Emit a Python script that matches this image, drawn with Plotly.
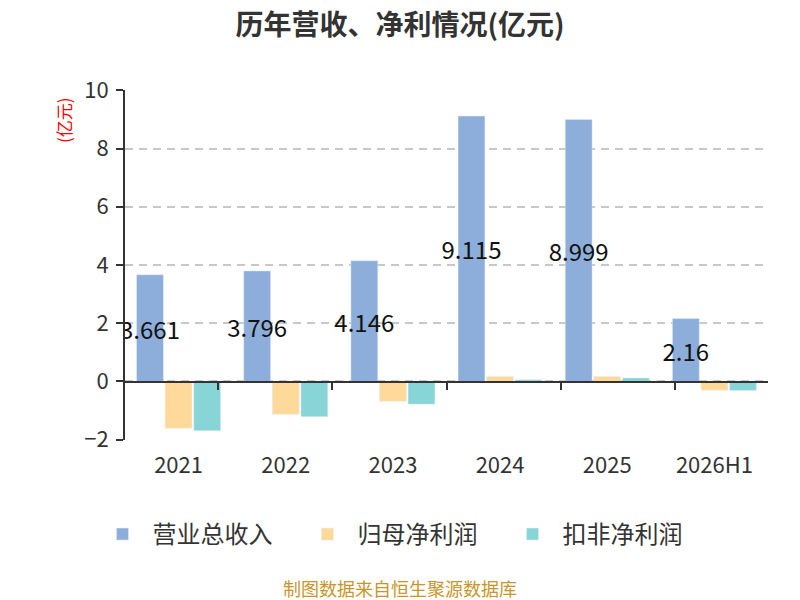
import plotly.graph_objects as go

years = ['2021', '2022', '2023', '2024', '2025', '2026H1']
revenue = [3.661, 3.796, 4.146, 9.115, 8.999, 2.16]
net_profit = [-1.61, -1.13, -0.68, 0.17, 0.17, -0.30]
net_profit_ex = [-1.69, -1.21, -0.78, 0.06, 0.12, -0.31]

font_cn = 'Noto Sans CJK SC'

fig = go.Figure()
fig.add_trace(go.Bar(
    x=years, y=revenue, name='营业总收入',
    marker=dict(color='#8DADDA'),
    text=[str(v) for v in revenue],
    textposition='inside', insidetextanchor='middle',
    textangle=0, constraintext='none',
    textfont=dict(size=24, color='#111', family=font_cn),
    hoverinfo='x+y',
))
fig.add_trace(go.Bar(
    x=years, y=net_profit, name='归母净利润',
    marker=dict(color='#FFD999'),
))
fig.add_trace(go.Bar(
    x=years, y=net_profit_ex, name='扣非净利润',
    marker=dict(color='#88D5D8'),
))
# invisible trace so the zero-line axis with boundary ticks is drawn
fig.add_trace(go.Scatter(
    x=years, y=[0] * len(years), xaxis='x2', mode='markers',
    marker=dict(opacity=0), showlegend=False, hoverinfo='skip',
))

# page body has an 8px margin, so margins are shifted by 8px
center_x = (392 - 117) / 643
fig.update_layout(
    width=800, height=600,
    margin=dict(l=117, r=40, t=82, b=168),
    paper_bgcolor='white', plot_bgcolor='white',
    font=dict(family=font_cn, color='#333'),
    title=dict(text='<b>历年营收、净利情况(亿元)</b>', x=0.49, y=0.972,
               xanchor='center', yanchor='middle',
               font=dict(size=28, color='#333')),
    barmode='group', bargap=0.2, bargroupgap=0.06,
    xaxis=dict(showline=False, ticks='', showgrid=False, ticklabelstandoff=10,
               tickfont=dict(size=22, color='#333')),
    xaxis2=dict(overlaying='x', anchor='free', position=2 / 12,
                showline=True, linecolor='#333', linewidth=2,
                ticks='outside', ticklen=7, tickwidth=2, tickcolor='#333',
                tickson='boundaries', showticklabels=False, showgrid=False),
    yaxis=dict(range=[-2.01, 10.01], tickvals=[-2, 0, 2, 4, 6, 8, 10], zeroline=False,
               showline=True, linecolor='#333', linewidth=2,
               ticks='outside', ticklen=7, tickwidth=2, tickcolor='#333',
               gridcolor='#c8c8c8', griddash='8px,6px', gridwidth=1.5,
               ticklabelstandoff=3,
               tickfont=dict(size=22, color='#333')),
    legend=dict(orientation='h', x=center_x, xanchor='center', y=-0.27, yanchor='middle',
                font=dict(size=24, color='#333'), itemwidth=50,
                entrywidth=140, entrywidthmode='pixels'),
    annotations=[
        dict(text='(亿元)', xref='paper', yref='paper', x=-0.0964, y=0.914,
             xanchor='center', yanchor='middle',
             textangle=-90, showarrow=False, font=dict(size=17, color='red')),
        dict(text='制图数据来自恒生聚源数据库', xref='paper', yref='paper',
             x=center_x, y=-0.4229, xanchor='center', yanchor='middle',
             showarrow=False, font=dict(size=18, color='#C8952A')),
    ],
)

fig.write_html('out.html')
